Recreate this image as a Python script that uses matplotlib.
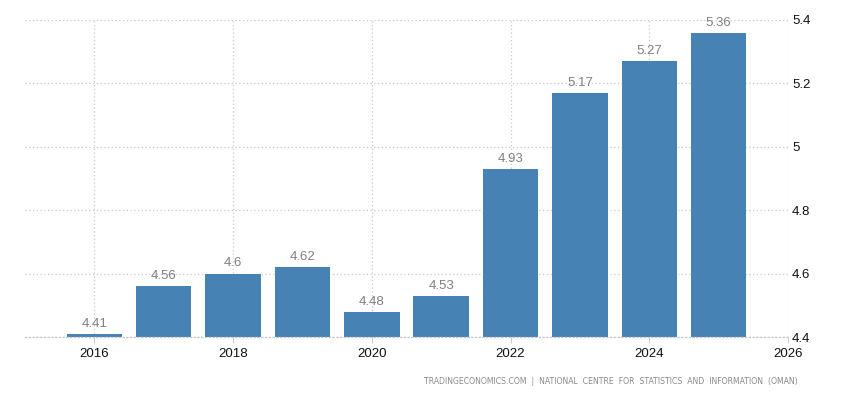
import matplotlib
matplotlib.use("Agg")
import matplotlib.pyplot as plt

years = [2016, 2017, 2018, 2019, 2020, 2021, 2022, 2023, 2024, 2025]
values = [4.41, 4.56, 4.60, 4.62, 4.48, 4.53, 4.93, 5.17, 5.27, 5.36]
value_labels = ["4.41", "4.56", "4.6", "4.62", "4.48", "4.53", "4.93", "5.17", "5.27", "5.36"]
xticks = [2016, 2018, 2020, 2022, 2024, 2026]
yticks = [4.4, 4.6, 4.8, 5.0, 5.2, 5.4]
ytick_labels = ["4.4", "4.6", "4.8", "5", "5.2", "5.4"]

plt.rcParams["font.family"] = ["Liberation Sans", "DejaVu Sans"]

fig = plt.figure(figsize=(8.5, 4), dpi=100)
ax = fig.add_axes([25/850, 1 - 337/400, (788-25)/850, (337-20)/400])

base = 4.4
ax.bar(years, [v - base for v in values], bottom=base, width=0.8,
       color="#4682B4", zorder=2)
for x, v, lab in zip(years, values, value_labels):
    ax.text(x, v + 0.013, lab, ha="center", va="bottom", fontsize=9.5, color="#808080")

ax.set_xlim(2015, 2026)
ax.set_ylim(4.4, 5.4)
ax.set_xticks(xticks)
ax.set_xticklabels([str(t) for t in xticks], fontsize=9.5, color="#111111")
ax.set_yticks(yticks)
ax.set_yticklabels(ytick_labels, fontsize=9.5, color="#111111")
ax.yaxis.tick_right()
ax.tick_params(axis="y", length=0, pad=3)
ax.tick_params(axis="x", length=4, color="#cccccc", pad=4)
for lab in ax.get_yticklabels():
    lab.set_verticalalignment("center_baseline")

ax.grid(True, color="#c8c8c8", linestyle=(0, (1, 2)), linewidth=0.9, zorder=0)
ax.set_axisbelow(True)
for s in ["top", "left", "right"]:
    ax.spines[s].set_visible(False)
ax.spines["bottom"].set_color("#c8c8c8")
ax.spines["bottom"].set_linestyle((0, (1, 2)))
ax.spines["bottom"].set_linewidth(0.9)

fig.text(798/850, 1 - 382/400,
         "TRADINGECONOMICS.COM  |  NATIONAL  CENTRE  FOR  STATISTICS  AND  INFORMATION  (OMAN)",
         ha="right", va="center", fontsize=5.6, color="#8a8a8a", family="DejaVu Sans")

fig.savefig("out.png", dpi=100)
